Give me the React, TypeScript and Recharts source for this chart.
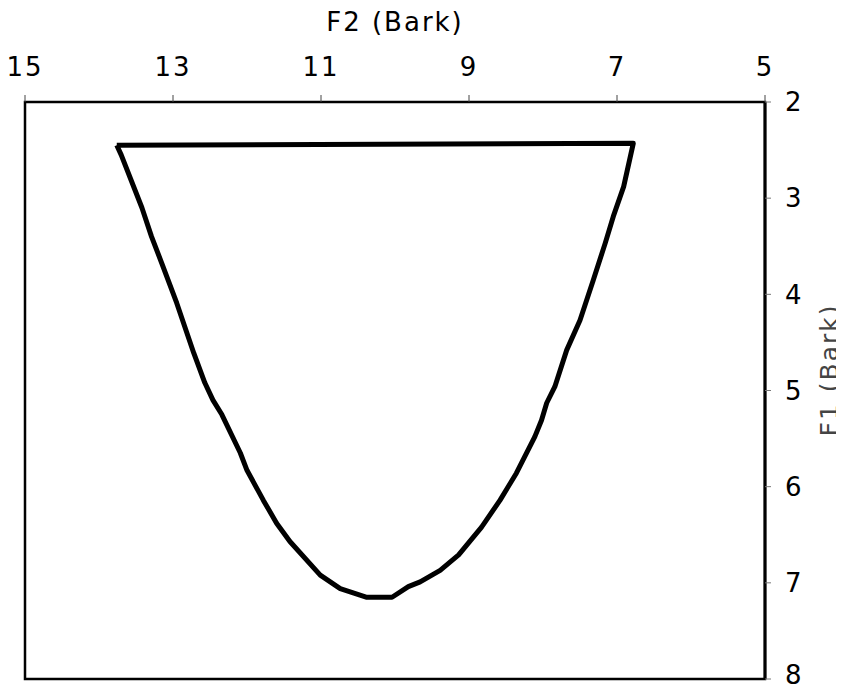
import React from "react";
import { LineChart, Line, XAxis, YAxis, ReferenceArea, Label } from "recharts";

// F2 (Bark) values of the vowel-space outline, in drawing order
const f2Values = [
  13.76, 6.78, 6.91, 7.05, 7.16, 7.32, 7.5, 7.68, 7.84, 7.95, 8.02, 8.11, 8.36,
  8.58, 8.83, 9.14, 9.39, 9.66, 9.82, 10.04, 10.38, 10.74, 11.01, 11.42, 11.6,
  11.78, 12.0, 12.09, 12.34, 12.46, 12.57, 12.72, 12.95, 13.15, 13.29, 13.42,
  13.7, 13.76,
];
// F1 (Bark) values, same order
const f1Values = [
  2.45, 2.43, 2.88, 3.19, 3.47, 3.85, 4.27, 4.58, 4.96, 5.13, 5.31, 5.48, 5.86,
  6.14, 6.42, 6.71, 6.87, 6.99, 7.04, 7.15, 7.15, 7.06, 6.92, 6.57, 6.38, 6.14,
  5.83, 5.65, 5.25, 5.1, 4.92, 4.61, 4.09, 3.68, 3.4, 3.1, 2.55, 2.45,
];

const f2Ticks = [15, 13, 11, 9, 7, 5];
const f1Ticks = [2, 3, 4, 5, 6, 7, 8];

const data = f2Values.map((f2, i) => ({ f2, f1: f1Values[i] }));

const FONT = "DejaVu Sans";
const tickStyle = { fontSize: 26, fill: "#000", fontFamily: FONT };

const F1Title = (props: any) => {
  const vb = props.viewBox || {};
  const cx = vb.x + 73;
  const cy = 362;
  return (
    <text
      x={cx}
      y={cy}
      transform={`rotate(-90 ${cx} ${cy})`}
      textAnchor="middle"
      fontSize={25}
      fontFamily={FONT}
      fill="#444"
    >
      F1 (Bark)
    </text>
  );
};

export default function App() {
  return (
    <div style={{ width: 836, height: 682, fontFamily: FONT, letterSpacing: 2 }}>
      <style>{`.recharts-surface{overflow:visible}`}</style>
      <LineChart
        width={836}
        height={682}
        data={data}
        margin={{ top: 4, right: 0, bottom: 11, left: 17 }}
      >
        <XAxis
          dataKey="f2"
          type="number"
          orientation="top"
          domain={[5, 15]}
          ticks={f2Ticks}
          reversed
          height={90}
          tick={tickStyle}
          tickSize={7}
          tickMargin={19}
          axisLine={{ stroke: "#000", strokeWidth: 2 }}
          tickLine={{ stroke: "#444", strokeWidth: 1 }}
          allowDataOverflow
        >
          <Label
            value="F2 (Bark)"
            position="insideTop"
            offset={1}
            style={{ fontSize: 26, fill: "#000", fontFamily: FONT }}
          />
        </XAxis>
        <YAxis
          type="number"
          orientation="right"
          domain={[2, 8]}
          ticks={f1Ticks}
          reversed
          width={79}
          tick={tickStyle}
          tickSize={6}
          tickMargin={14}
          axisLine={{ stroke: "#000", strokeWidth: 3 }}
          tickLine={{ stroke: "#777", strokeWidth: 1 }}
          allowDataOverflow
        >
          <Label content={F1Title} />
        </YAxis>
        <ReferenceArea
          x1={15}
          x2={5}
          y1={2}
          y2={8}
          fill="none"
          fillOpacity={0}
          stroke="#000"
          strokeWidth={2.5}
          ifOverflow="visible"
        />
        <Line
          dataKey="f1"
          type="linear"
          stroke="#000"
          strokeWidth={5}
          dot={false}
          activeDot={false}
          strokeLinejoin="round"
          isAnimationActive={false}
        />
      </LineChart>
    </div>
  );
}
